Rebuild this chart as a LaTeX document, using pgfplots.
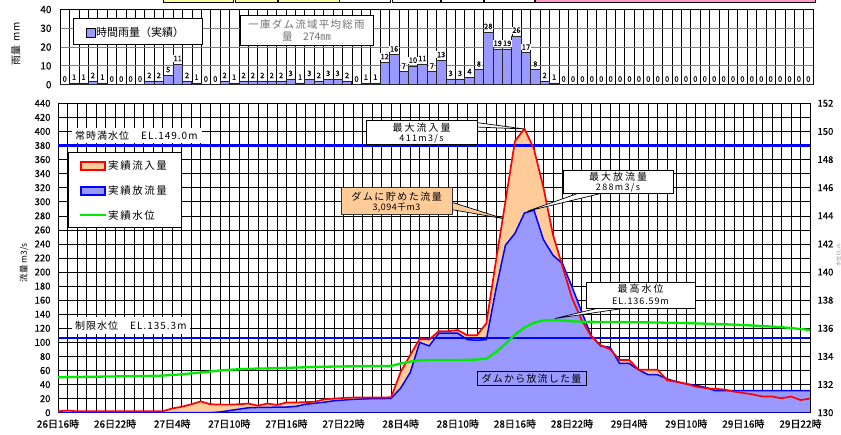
\documentclass[border=0pt]{standalone}
\usepackage{fontspec}
\setmainfont{Noto Sans CJK JP}
\usepackage{pgfplots}
\pgfplotsset{compat=1.18}
\usepackage{pgfplotstable}
\definecolor{orf}{RGB}{255,204,153}
\definecolor{blf}{RGB}{153,153,255}
\definecolor{grn}{RGB}{0,235,0}
\definecolor{pnk}{RGB}{255,153,204}
\definecolor{ylw}{RGB}{255,255,153}
\newcommand\fs[1]{\fontsize{#1}{#1}\selectfont}

\pgfplotstableread{
h in out
0 2 0
1 3 0
2 2 0
3 2 0
4 2 0
5 2 0
6 2 0
7 2 0
8 2 0
9 2 0
10 2 0
11 2 0
12 6 0
13 8.5 0
14 12 0
15 16 0
16 12 0
17 11.5 1
18 11.5 3
19 12 5
20 13 7
21 10 7.5
22 13 7.5
23 11 8
24 14.5 8
25 14.5 9
26 15 12
27 15.6 13.5
28 19 15
29 20 17
30 21 18
31 21.5 19
32 21.5 19.5
33 21.5 20
34 21.5 20
35 22 20.5
36 58 35
37 82 57
38 105 100
39 104 95
40 116 113
41 116 113
42 117.5 113
43 110 104
44 110 103
45 127 104
46 215 175
47 300 238
48 386 255
49 404 284
50 375 288
51 320 246
52 253 224
53 208 212
54 163 179
55 132 144
56 109 110
57 96 95
58 90 93
59 75 70
60 75 70
61 61 61
62 61 54
63 61 54
64 46 48
65 44 44
66 41 41
67 37 39
68 35 36
69 34 31.5
70 33 31.5
71 30 31.5
72 28 31.5
73 26 31.5
74 23 31.5
75 23 31.5
76 20.5 31.5
77 23 31.5
78 18 31.5
79 20 31.5
}\flow

\pgfplotstableread{
h lev
0 132.52
1 132.53
2 132.54
3 132.55
4 132.56
5 132.57
6 132.58
7 132.59
8 132.60
9 132.61
10 132.62
11 132.64
12 132.68
13 132.73
14 132.80
15 132.86
16 132.93
17 133.00
18 133.05
19 133.09
20 133.12
21 133.14
22 133.15
23 133.17
24 133.19
25 133.21
26 133.23
27 133.25
28 133.27
29 133.28
30 133.29
31 133.30
32 133.31
33 133.31
34 133.32
35 133.33
36 133.50
37 133.63
38 133.72
39 133.75
40 133.75
41 133.75
42 133.75
43 133.76
44 133.78
45 133.84
46 134.30
47 134.90
48 135.55
49 136.05
50 136.40
51 136.56
52 136.59
53 136.55
54 136.50
55 136.47
56 136.46
57 136.45
58 136.45
59 136.44
60 136.44
61 136.43
62 136.42
63 136.41
64 136.40
65 136.39
66 136.37
67 136.35
68 136.33
69 136.31
70 136.29
71 136.26
72 136.23
73 136.20
74 136.16
75 136.12
76 136.08
77 136.02
78 135.95
79 135.88
}\level

\pgfplotstableread{
x r
0.5 0
1.5 1
2.5 1
3.5 2
4.5 1
5.5 0
6.5 0
7.5 0
8.5 0
9.5 2
10.5 2
11.5 5
12.5 11
13.5 2
14.5 1
15.5 0
16.5 0
17.5 2
18.5 1
19.5 2
20.5 2
21.5 2
22.5 2
23.5 2
24.5 3
25.5 1
26.5 3
27.5 2
28.5 3
29.5 3
30.5 2
31.5 0
32.5 1
33.5 1
34.5 12
35.5 16
36.5 7
37.5 10
38.5 11
39.5 7
40.5 13
41.5 3
42.5 3
43.5 4
44.5 8
45.5 28
46.5 19
47.5 19
48.5 26
49.5 17
50.5 8
51.5 2
52.5 1
53.5 0
54.5 0
55.5 0
56.5 0
57.5 0
58.5 0
59.5 0
60.5 0
61.5 0
62.5 0
63.5 0
64.5 0
65.5 0
66.5 0
67.5 0
68.5 0
69.5 0
70.5 0
71.5 0
72.5 0
73.5 0
74.5 0
75.5 0
76.5 0
77.5 0
78.5 0
79.5 0
}\rain

\begin{document}
\begin{tikzpicture}
\useasboundingbox (0,0) rectangle (841pt,-435pt);

% ---------- top rainfall panel ----------
\begin{axis}[
  at={(60pt,-84.7pt)}, anchor=south west,
  scale only axis, width=753pt, height=75.2pt,
  xmin=0, xmax=80, ymin=0, ymax=40,
  xtick={0,...,80}, xticklabels={},
  ytick={0,10,20,30,40},
  major tick length=0pt,
  xmajorgrids, ymajorgrids,
  x grid style={black, line width=0.5pt},
  y grid style={gray, line width=1pt},
  axis line style={black, line width=0.9pt},
  /pgf/number format/assume math mode=true,
  yticklabel style={font=\fs{10}\addfontfeature{FakeBold=0.4}, xshift=-5pt},
  clip=false,
]
\addplot[ybar, bar width=1, bar shift=0pt, fill=blf, draw=black!85, line width=0.6pt,
  nodes near coords,
  every node near coord/.style={font=\fs{7.5}\addfontfeature{FakeBold=0.3}, fill=white, inner sep=0.6pt, anchor=south, yshift=2pt}]
  table[x=x,y=r]{\rain};
\end{axis}

% ---------- main flow panel ----------
\begin{axis}[
  at={(58pt,-412.7pt)}, anchor=south west,
  scale only axis, width=752pt, height=309.4pt,
  xmin=0, xmax=79, ymin=0, ymax=440,
  xtick={0,6,...,78},
  xticklabels={26日16時,26日22時,27日4時,27日10時,27日16時,27日22時,28日4時,28日10時,28日16時,28日22時,29日4時,29日10時,29日16時,29日22時},
  minor xtick={0,...,79},
  ytick={0,20,...,440},
  xmajorgrids, xminorgrids, ymajorgrids,
  major grid style={black, line width=0.6pt},
  minor grid style={black, line width=0.6pt},
  major tick length=0pt, minor tick length=0pt,
  axis line style={black, line width=0.9pt},
  /pgf/number format/assume math mode=true,
  yticklabel style={font=\fs{9.5}\addfontfeature{FakeBold=0.4}, xshift=-4pt},
  xticklabel style={font=\fs{10}\addfontfeature{FakeBold=0.5}, yshift=-3pt},
  no markers,
]
\addplot[fill=orf, draw=none] table[x=h,y=in]{\flow} \closedcycle;
\addplot[fill=blf, draw=none] table[x=h,y=out]{\flow} \closedcycle;
\addplot[blue, line width=2.3pt] coordinates {(0,380) (79,380)};
\addplot[blue, line width=2.3pt] coordinates {(0,106) (79,106)};
\addplot[blue!70!black, line width=1.4pt] coordinates {(0,0) (79,0)};
\addplot[blue, line width=1.5pt] table[x=h,y=out]{\flow};
\addplot[red, line width=1.7pt] table[x=h,y=in]{\flow};
\end{axis}

\begin{axis}[
  at={(58pt,-412.7pt)}, anchor=south west,
  scale only axis, width=752pt, height=309.4pt,
  xmin=0, xmax=79, ymin=130, ymax=152,
  axis y line*=right, axis x line=none,
  ytick={130,132,...,152},
  major tick length=0pt,
  axis line style={black, line width=0.9pt},
  /pgf/number format/assume math mode=true,
  yticklabel style={font=\fs{9.5}\addfontfeature{FakeBold=0.4}, xshift=4pt},
  no markers,
]
\addplot[grn, line width=2.3pt] table[x=h,y=lev]{\level};
\end{axis}

% ---------- decorations ----------
\begin{scope}[x=1pt,y=-1pt]
% table strip at top
\draw[line width=0.8pt, fill=ylw] (163,-3) rectangle (233,2.7);
\draw[line width=0.8pt, fill=ylw] (235,-3) rectangle (277,2.7);
\draw[line width=0.8pt, fill=ylw] (278,-3) rectangle (339,2.7);
\draw[line width=0.8pt, fill=white] (339,-3) rectangle (390,2.7);
\draw[line width=0.8pt, fill=white] (392,-3) rectangle (440,2.7);
\draw[line width=0.8pt, fill=white] (441,-3) rectangle (483,2.7);
\draw[line width=0.8pt, fill=white] (484,-3) rectangle (534,2.7);
\draw[line width=0.8pt, fill=pnk] (535,-3) rectangle (815,2.7);

% top y label
\node[rotate=90, font=\fs{10}] at (16,44) {雨量\ \ mm};
% rain legend
\draw[line width=0.9pt, fill=white] (73,18) rectangle (202,44);
\draw[line width=0.6pt, fill=blf] (86,28) rectangle (95,37);
\node[anchor=west, font=\fs{11}, inner sep=0pt] at (96,32.5) {時間雨量（実績）};
% total rain box
\draw[line width=0.9pt, fill=white] (240,15) rectangle (373,45.5);
\node[font=\fs{10.5}\addfontfeature{LetterSpace=12}, text=black!55, inner sep=0pt] at (306.5,24.5) {一庫ダム流域平均総雨};
\node[font=\fs{10.5}, text=black!55, inner sep=0pt] at (306.5,37) {量　274㎜};

% main y label
\node[rotate=90, font=\fs{8.5}] at (24,263) {流量\ m3/s};
\node[rotate=90, font=\fs{5}, text=black!45, inner sep=0pt] at (838.5,255) {水位 EL.m};

% normal water level label
\fill[white] (72,128) rectangle (202,143.5);
\node[anchor=west, font=\fs{10}\addfontfeature{LetterSpace=10}, inner sep=0pt] at (75,136) {常時満水位　EL.149.0m};
% limit level label
\fill[white] (72,317) rectangle (190,334);
\node[anchor=west, font=\fs{10}\addfontfeature{LetterSpace=10}, inner sep=0pt] at (75,325.5) {制限水位　EL.135.3m};

% legend
\draw[line width=1pt, fill=white] (68,153) rectangle (181,228);
\draw[red, line width=1.3pt, fill=orf] (81,162) rectangle (105,170);
\node[anchor=west, font=\fs{10.5}\addfontfeature{LetterSpace=15}, inner sep=0pt] at (108,166) {実績流入量};
\draw[blue, line width=1.3pt, fill=blf] (81,187) rectangle (105,195);
\node[anchor=west, font=\fs{10.5}\addfontfeature{LetterSpace=15}, inner sep=0pt] at (108,191) {実績放流量};
\draw[grn, line width=2pt] (80,215.5) -- (106,215.5);
\node[anchor=west, font=\fs{10.5}\addfontfeature{LetterSpace=15}, inner sep=0pt] at (108,215.5) {実績水位};

% max inflow
\draw[line width=0.7pt, fill=white] (476,122.5) -- (524.5,129) -- (476,127) -- cycle;
\draw[line width=0.9pt, fill=white] (366,120.7) rectangle (477,144);
\node[font=\fs{10}\addfontfeature{LetterSpace=20}, inner sep=0pt] at (421.5,127.5) {最大流入量};
\node[font=\fs{9}\addfontfeature{LetterSpace=15}, inner sep=0pt] at (421.5,138.5) {411m3/s};

% stored volume
\draw[line width=0.7pt, fill=orf] (451,202) -- (503,218.5) -- (451,209.5) -- cycle;
\draw[line width=1pt, draw=black!80, fill=orf] (341,188) rectangle (452,215);
\node[font=\fs{10}\addfontfeature{LetterSpace=15}, inner sep=0pt] at (396.5,196.5) {ダムに貯めた流量};
\node[font=\fs{9}\addfontfeature{LetterSpace=5}, inner sep=0pt] at (396.5,208) {3,094千m3};

% max outflow
\draw[line width=0.7pt, fill=white] (582,192) -- (528,211) -- (607,192) -- cycle;
\draw[line width=0.9pt, fill=white] (563,170) rectangle (673,193);
\node[font=\fs{10}\addfontfeature{LetterSpace=20}, inner sep=0pt] at (618,176.5) {最大放流量};
\node[font=\fs{9}\addfontfeature{LetterSpace=15}, inner sep=0pt] at (618,187.5) {288m3/s};

% max level
\draw[line width=0.7pt, fill=white] (603,307) -- (555,318.5) -- (633,307) -- cycle;
\draw[line width=0.9pt, fill=white] (586,282) rectangle (695,308);
\node[font=\fs{10}\addfontfeature{LetterSpace=20}, inner sep=0pt] at (640.5,289) {最高水位};
\node[font=\fs{9}\addfontfeature{LetterSpace=10}, inner sep=0pt] at (640.5,301.5) {EL.136.59m};

% released volume
\draw[line width=1pt] (477,372) rectangle (586,386);
\node[font=\fs{10}\addfontfeature{LetterSpace=12}, inner sep=0pt] at (531.5,379) {ダムから放流した量};
\end{scope}
\end{tikzpicture}
\end{document}
